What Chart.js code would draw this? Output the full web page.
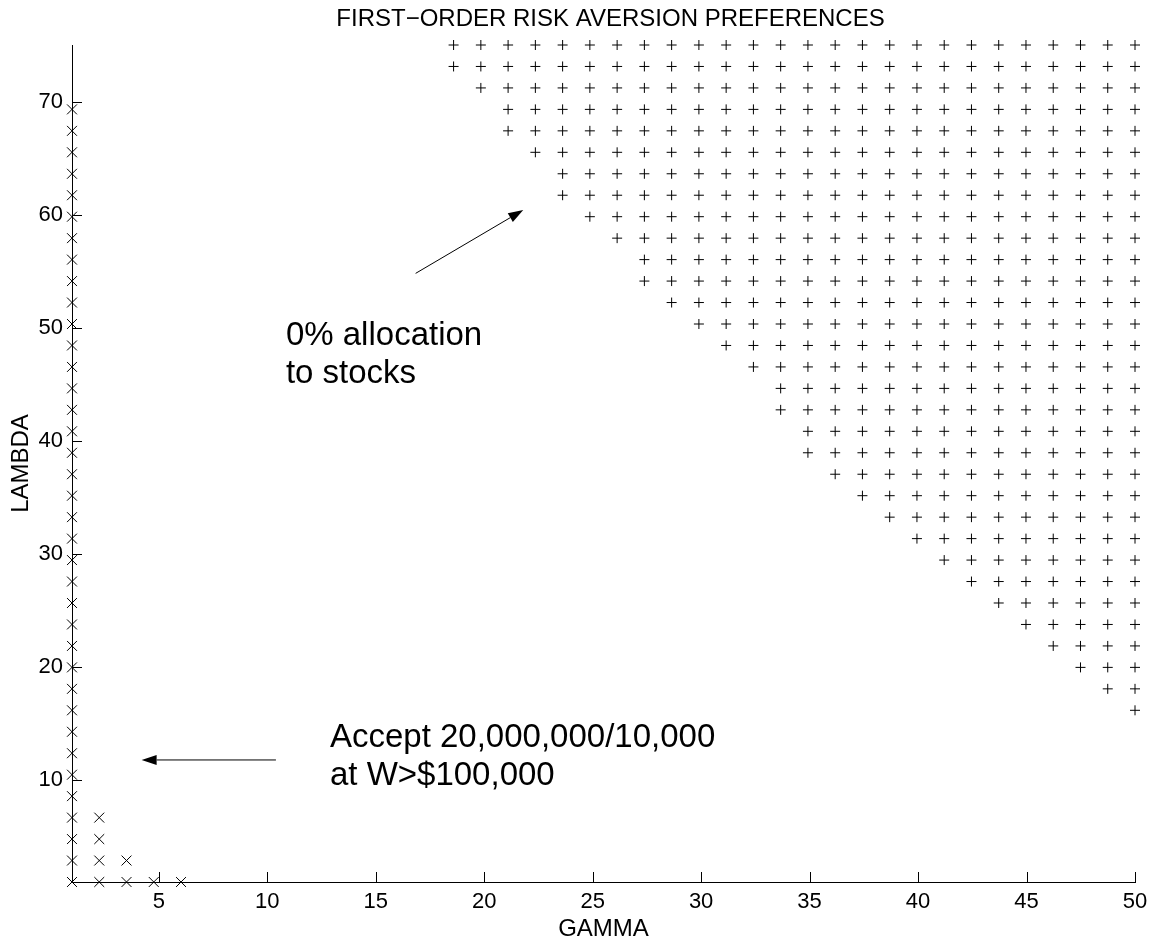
<!DOCTYPE html>
<html>
<head>
<meta charset="utf-8">
<script src="https://cdn.jsdelivr.net/npm/chart.js@4.4.1/dist/chart.umd.min.js"></script>
<style>
  html, body { margin: 0; padding: 0; background: #fff; }
  canvas { display: block; }
</style>
</head>
<body>
<canvas id="c" width="1158" height="944"></canvas>
<script>
const FONT = '"Liberation Sans", Arial, Helvetica, sans-serif';

// GAMMA grid (40 points, 1 .. 50)
const gammaGrid = [1.0000, 2.2564, 3.5128, 4.7692, 6.0256, 7.2821, 8.5385, 9.7949, 11.0513, 12.3077,
  13.5641, 14.8205, 16.0769, 17.3333, 18.5897, 19.8462, 21.1026, 22.3590, 23.6154, 24.8718,
  26.1282, 27.3846, 28.6410, 29.8974, 31.1538, 32.4103, 33.6667, 34.9231, 36.1795, 37.4359,
  38.6923, 39.9487, 41.2051, 42.4615, 43.7179, 44.9744, 46.2308, 47.4872, 48.7436, 50.0000];

// LAMBDA grid (40 points, 1 .. 75)
const lambdaGrid = [1.0000, 2.8974, 4.7949, 6.6923, 8.5897, 10.4872, 12.3846, 14.2821, 16.1795, 18.0769,
  19.9744, 21.8718, 23.7692, 25.6667, 27.5641, 29.4615, 31.3590, 33.2564, 35.1538, 37.0513,
  38.9487, 40.8462, 42.7436, 44.6410, 46.5385, 48.4359, 50.3333, 52.2308, 54.1282, 56.0256,
  57.9231, 59.8205, 61.7179, 63.6154, 65.5128, 67.4103, 69.3077, 71.2051, 73.1026, 75.0000];

// "+" cells (0% allocation to stocks): for each LAMBDA row, the first GAMMA column;
// the cells then run out to GAMMA = 50.
const plusRows     = [ 8,  9, 10, 11, 12, 13, 14, 15, 16, 17, 18, 19, 20, 21, 22, 23,
                      24, 25, 26, 27, 28, 29, 30, 31, 32, 33, 34, 35, 36, 37, 38, 39];
const plusFirstCol = [39, 38, 37, 36, 35, 34, 33, 32, 31, 30, 29, 28, 27, 27, 26, 26,
                      25, 24, 23, 22, 21, 21, 20, 19, 18, 18, 17, 16, 16, 15, 14, 14];

// "x" cells (accept the gamble): for each GAMMA column, the highest LAMBDA row;
// the cells start at LAMBDA = 1.
const crossCols   = [0, 1, 2, 3, 4];
const crossTopRow = [36, 3, 1, 0, 0];

const xTickValues = [5, 10, 15, 20, 25, 30, 35, 40, 45, 50];
const yTickValues = [10, 20, 30, 40, 50, 60, 70];

const chartTitle = 'FIRST\u2212ORDER RISK AVERSION PREFERENCES';

// text notes with arrows, placed in GAMMA / LAMBDA units
const notes = [
  { lines: ['0% allocation', 'to stocks'], at: [10.86, 48.48],
    arrowFrom: [16.84, 54.81], arrowTo: [21.80, 60.41] },
  { lines: ['Accept 20,000,000/10,000', 'at W>$100,000'], at: [12.89, 12.94],
    arrowFrom: [10.40, 11.79], arrowTo: [4.21, 11.79] }
];

const plusPoints = [];
plusRows.forEach((r, k) => {
  for (let c = plusFirstCol[k]; c < gammaGrid.length; c++) {
    plusPoints.push({ x: gammaGrid[c], y: lambdaGrid[r] });
  }
});
const crossPoints = [];
crossCols.forEach((c, k) => {
  for (let r = 0; r <= crossTopRow[k]; r++) {
    crossPoints.push({ x: gammaGrid[c], y: lambdaGrid[r] });
  }
});

function drawArrow(ctx, x0, y0, x1, y1) {
  const ang = Math.atan2(y1 - y0, x1 - x0);
  const headLen = 15, headHalf = 5;
  const bx = x1 - headLen * Math.cos(ang), by = y1 - headLen * Math.sin(ang);
  ctx.beginPath();
  ctx.moveTo(x0, y0);
  ctx.lineTo(bx, by);
  ctx.stroke();
  ctx.beginPath();
  ctx.moveTo(x1, y1);
  ctx.lineTo(bx - headHalf * Math.sin(ang), by + headHalf * Math.cos(ang));
  ctx.lineTo(bx + headHalf * Math.sin(ang), by - headHalf * Math.cos(ang));
  ctx.closePath();
  ctx.fill();
}

// inward tick marks, title and the arrow notes
const decorations = {
  id: 'decorations',
  afterDraw(chart) {
    const { ctx, chartArea: a, scales: { x, y } } = chart;
    ctx.save();
    ctx.strokeStyle = '#000';
    ctx.fillStyle = '#000';
    ctx.lineWidth = 1;

    ctx.beginPath();
    xTickValues.forEach(v => {
      const px = Math.round(x.getPixelForValue(v)) + 0.5;
      ctx.moveTo(px, a.bottom);
      ctx.lineTo(px, a.bottom - 10);
    });
    yTickValues.forEach(v => {
      const py = Math.round(y.getPixelForValue(v)) + 0.5;
      ctx.moveTo(a.left, py);
      ctx.lineTo(a.left + 10, py);
    });
    ctx.stroke();

    ctx.font = '24px ' + FONT;
    ctx.textAlign = 'center';
    ctx.textBaseline = 'alphabetic';
    ctx.fillText(chartTitle, (a.left + a.right) / 2 + 7, 26);

    ctx.font = '33px ' + FONT;
    ctx.textAlign = 'left';
    notes.forEach(n => {
      const tx = x.getPixelForValue(n.at[0]);
      const ty = y.getPixelForValue(n.at[1]);
      n.lines.forEach((line, i) => ctx.fillText(line, tx, ty + i * 38));
      drawArrow(ctx,
        x.getPixelForValue(n.arrowFrom[0]), y.getPixelForValue(n.arrowFrom[1]),
        x.getPixelForValue(n.arrowTo[0]), y.getPixelForValue(n.arrowTo[1]));
    });
    ctx.restore();
  }
};

const tickFont = { family: FONT, size: 22 };
const labelFont = { family: FONT, size: 24 };

new Chart(document.getElementById('c'), {
  type: 'scatter',
  data: {
    datasets: [
      { label: '0% allocation', data: plusPoints, pointStyle: 'cross', pointRadius: 5,
        pointHoverRadius: 5, borderColor: '#000', backgroundColor: '#000', borderWidth: 1, clip: false },
      { label: 'accept', data: crossPoints, pointStyle: 'crossRot', pointRadius: 7,
        pointHoverRadius: 7, borderColor: '#000', backgroundColor: '#000', borderWidth: 1, clip: false }
    ]
  },
  options: {
    responsive: false,
    animation: false,
    devicePixelRatio: 1,
    events: [],
    layout: { padding: { left: 0, right: 23, top: 45, bottom: 0 } },
    plugins: { legend: { display: false }, tooltip: { enabled: false }, title: { display: false } },
    scales: {
      x: {
        type: 'linear', min: 1, max: 50,
        afterBuildTicks: s => { s.ticks = xTickValues.map(v => ({ value: v })); },
        afterFit: s => { s.height = 62; },
        grid: { display: false, drawTicks: false },
        border: { display: true, color: '#000', width: 1 },
        ticks: { font: tickFont, color: '#000', padding: 7, maxRotation: 0, autoSkip: false },
        title: { display: true, text: 'GAMMA', font: labelFont, color: '#000', padding: { top: 0, bottom: 0 } }
      },
      y: {
        type: 'linear', min: 1, max: 75,
        afterBuildTicks: s => { s.ticks = yTickValues.map(v => ({ value: v })); },
        afterFit: s => { s.width = 72; },
        grid: { display: false, drawTicks: false },
        border: { display: true, color: '#000', width: 1 },
        ticks: { font: tickFont, color: '#000', padding: 9, autoSkip: false },
        title: { display: true, text: 'LAMBDA', font: labelFont, color: '#000', padding: { top: 7, bottom: 0 } }
      }
    }
  },
  plugins: [decorations]
});
</script>
</body>
</html>
